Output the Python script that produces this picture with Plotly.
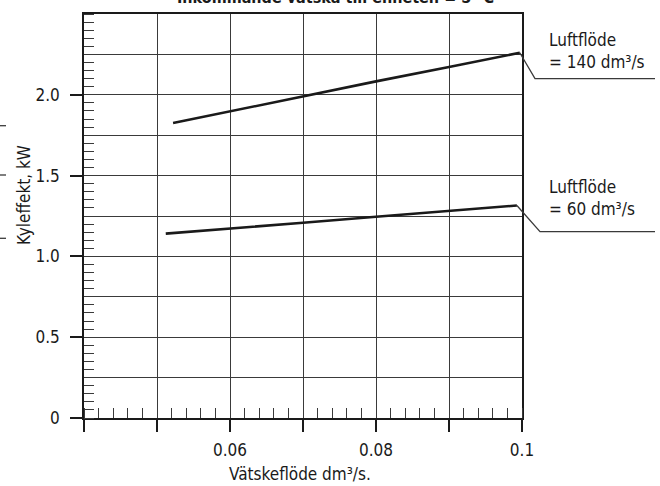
import plotly.graph_objects as go

# ---- data ----
x_140 = [0.0522, 0.060, 0.070, 0.080, 0.090, 0.0997]
y_140 = [1.825, 1.898, 1.993, 2.083, 2.172, 2.260]
x_60 = [0.0512, 0.060, 0.070, 0.080, 0.090, 0.0993]
y_60 = [1.141, 1.171, 1.208, 1.245, 1.281, 1.315]

x_ticks = [0.04, 0.05, 0.06, 0.07, 0.08, 0.09, 0.10]
x_ticklabels = ["", "", "0.06", "", "0.08", "", "0.1"]
y_ticks = [0, 0.5, 1.0, 1.5, 2.0]
y_ticklabels = ["0", "0.5", "1.0", "1.5", "2.0"]
y_grid_extra = [0.25, 0.75, 1.25, 1.75, 2.25]

label_140 = "Luftflöde<br>= 140 dm³/s"
label_60 = "Luftflöde<br>= 60 dm³/s"
title_text = "Inkommande vätska till enheten = 5 °C"
x_title = "Vätskeflöde dm³/s."
y_title = "Kyleffekt, kW"

FONT = "DejaVu Sans Condensed, Liberation Sans Narrow, Liberation Sans, sans-serif"
INK = "#1a1a1a"
GRID = "#3a3a3a"
FS = 17

W, H = 660, 486
L, R, T, B = 84, 138, 14, 68
PW, PH = W - L - R, H - T - B
XR = [0.04, 0.10]
YR = [0, 2.5]


def px_x(p):
    return (p - L) / PW


def px_y(p):
    return (H - B - p) / PH


def data_px(xv, yv):
    return (xv - XR[0]) / (XR[1] - XR[0]), (yv - YR[0]) / (YR[1] - YR[0])


fig = go.Figure()
fig.add_trace(go.Scatter(x=x_140, y=y_140, mode="lines",
                         line=dict(color=INK, width=2.6), hoverinfo="skip"))
fig.add_trace(go.Scatter(x=x_60, y=y_60, mode="lines",
                         line=dict(color=INK, width=2.6), hoverinfo="skip"))
fig.add_trace(go.Scatter(x=[None], y=[None], yaxis="y2", showlegend=False))

fig.update_layout(
    width=W, height=H,
    margin=dict(l=L, r=R, t=T, b=B),
    plot_bgcolor="white", paper_bgcolor="white",
    showlegend=False,
    font=dict(family=FONT, color=INK, size=FS),
    xaxis=dict(
        range=XR, tickmode="array", tickvals=x_ticks, ticktext=x_ticklabels,
        ticks="outside", ticklen=12, tickwidth=1.5, tickcolor=INK,
        showgrid=True, gridcolor=GRID, gridwidth=1.3,
        showline=True, linecolor=INK, linewidth=1.6, mirror=True,
        zeroline=False, ticklabelstandoff=4,
        tickfont=dict(family=FONT, size=FS, color=INK),
        minor=dict(tickmode="linear", tick0=0.04, dtick=0.002, ticks="inside",
                   ticklen=10, tickwidth=1.2, tickcolor=GRID, showgrid=False),
    ),
    yaxis=dict(
        range=YR, tickmode="array", tickvals=y_ticks, ticktext=y_ticklabels,
        ticks="outside", ticklen=12, tickwidth=1.5, tickcolor=INK,
        showgrid=True, gridcolor=GRID, gridwidth=1.3,
        showline=True, linecolor=INK, linewidth=1.6, mirror=True,
        zeroline=False, ticklabelstandoff=7,
        tickfont=dict(family=FONT, size=FS, color=INK),
        minor=dict(tickmode="linear", tick0=0, dtick=0.05, ticks="inside",
                   ticklen=10, tickwidth=1.2, tickcolor=GRID, showgrid=False),
    ),
    yaxis2=dict(
        range=YR, overlaying="y", anchor="x", side="left",
        tickmode="array", tickvals=y_grid_extra, showticklabels=False,
        ticks="", showgrid=True, gridcolor=GRID, gridwidth=1.3,
        showline=False, zeroline=False,
    ),
)

# leader lines
ex, ey = data_px(x_140[-1], y_140[-1])
fig.add_shape(type="path", xref="paper", yref="paper",
              path=f"M {ex} {ey} L {px_x(535)} {px_y(78.7)} L {px_x(655)} {px_y(78.7)}",
              line=dict(color=GRID, width=1.3))
ex, ey = data_px(x_60[-1], y_60[-1])
fig.add_shape(type="path", xref="paper", yref="paper",
              path=f"M {ex} {ey} L {px_x(540)} {px_y(231.7)} L {px_x(655)} {px_y(231.7)}",
              line=dict(color=GRID, width=1.3))

# small marks at the left edge
for py in [125.7, 175, 238.3]:
    fig.add_shape(type="line", xref="paper", yref="paper",
                  x0=px_x(0), x1=px_x(6), y0=px_y(py), y1=px_y(py),
                  line=dict(color=GRID, width=1.3))

fig.add_annotation(text=label_140, xref="paper", yref="paper",
                   x=px_x(547), y=px_y(51), xanchor="left", yanchor="middle",
                   align="left", showarrow=False, font=dict(size=FS))
fig.add_annotation(text=label_60, xref="paper", yref="paper",
                   x=px_x(547), y=px_y(198), xanchor="left", yanchor="middle",
                   align="left", showarrow=False, font=dict(size=FS))

fig.add_annotation(text=x_title, xref="paper", yref="paper",
                   x=px_x(300), y=px_y(474), xanchor="center", yanchor="middle",
                   showarrow=False, font=dict(size=FS))
fig.add_annotation(text=y_title, xref="paper", yref="paper", textangle=-90,
                   x=px_x(24), y=px_y(195), xanchor="center", yanchor="middle",
                   showarrow=False, font=dict(size=FS))
fig.add_annotation(text="<b>" + title_text + "</b>", xref="paper", yref="paper",
                   x=px_x(335), y=px_y(9), xanchor="center", yanchor="bottom",
                   showarrow=False, font=dict(size=16))

fig.write_html("out.html")
